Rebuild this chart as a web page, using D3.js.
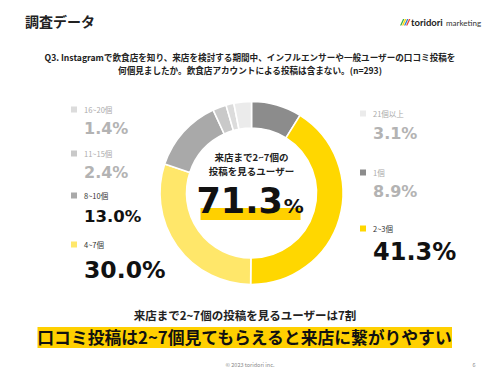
<!DOCTYPE html>
<html><head><meta charset="utf-8">
<script src="https://cdn.jsdelivr.net/npm/d3@7"></script>
<style>
html,body{margin:0;padding:0;background:#fff;}
svg{display:block;font-family:"Noto Sans CJK JP","Noto Sans",sans-serif;}
</style></head>
<body>
<script>
// ---- data ----
const categories = ["1個","2~3個","4~7個","8~10個","11~15個","16~20個","21個以上"];
const values = [8.9, 41.3, 30.0, 13.0, 2.4, 1.4, 3.1];
const colors = ["#8c8c8c","#ffd700","#ffe76a","#a9a9a9","#c9c9c9","#dcdcdc","#ebebeb"];
const valueColors = ["#b3b3b3","#111","#111","#111","#b3b3b3","#b3b3b3","#b3b3b3"];
const highlightValue = 71.3;
const title = "調査データ";
const question = ["Q3. Instagramで飲食店を知り、来店を検討する期間中、インフルエンサーや一般ユーザーの口コミ投稿を",
                  "何個見ましたか。飲食店アカウントによる投稿は含まない。(n=293)"];
const centerLabel = ["来店まで2~7個の","投稿を見るユーザー"];
const summary = "来店まで2~7個の投稿を見るユーザーは7割";
const headline = "口コミ投稿は2~7個見てもらえると来店に繋がりやすい";

const W = 500, H = 375;
const NUM = "'DejaVu Sans', Verdana, sans-serif";
const svg = d3.select("body").append("svg").attr("width", W).attr("height", H);

// header
svg.append("text").attr("x",25).attr("y",27).attr("font-size",14).attr("font-weight",700).attr("fill","#222").text(title);
// logo
const logo = svg.append("g").attr("transform","translate(400,24)");
[["#3fae49",0],["#ffd700",2],["#2f7fd1",4],["#e8473b",6]].forEach(([c,dx])=>{
  logo.append("path").attr("d",`M${dx},1.5 L${dx+3},-5 L${dx+4.4},-5 L${dx+1.4},1.5 Z`).attr("fill",c);
});
logo.append("text").attr("x",11).attr("y",1.5).attr("font-size",9.5).attr("font-weight",700).attr("fill","#222").attr("font-family","Lato, 'Noto Sans', sans-serif").text("toridori");
logo.append("text").attr("x",46).attr("y",1.5).attr("font-size",8).attr("font-weight",400).attr("fill","#333").attr("font-family","Lato, 'Noto Sans', sans-serif").text("marketing");

// question
question.forEach((q,i)=>{
  svg.append("text").attr("x",250).attr("y",61+i*13).attr("text-anchor","middle")
    .attr("font-size",8.6).attr("font-weight",700).attr("fill","#222").text(q);
});

// donut
const cx = 251.5, cy = 193, R = 91.5, r = 65;
const pie = d3.pie().sort(null).value(d=>d)(values);
const arc = d3.arc().innerRadius(r).outerRadius(R);
const g = svg.append("g").attr("transform",`translate(${cx},${cy})`);
g.selectAll("path").data(pie).join("path")
  .attr("d",arc).attr("fill",(d,i)=>colors[i]).attr("stroke","#fff").attr("stroke-width",1.6);

// center text
centerLabel.forEach((t,i)=>{
  g.append("text").attr("x",0).attr("y",-32+i*14).attr("text-anchor","middle")
   .attr("font-size",9.5).attr("font-weight",700).attr("fill","#222").text(t);
});
g.append("rect").attr("x",-51).attr("y",15).attr("width",100).attr("height",12).attr("fill","#ffd000");
const big = g.append("text").attr("x",-55).attr("y",20).attr("font-family",NUM).attr("font-weight",700).attr("fill","#111");
big.append("tspan").attr("font-size",35).text(highlightValue.toFixed(1));
big.append("tspan").attr("font-size",20).attr("dx",1).text("%");

// legend
const legendPos = {
  "16~20個":[71,112,134,16], "11~15個":[71,156,178,16], "8~10個":[71,198,221.5,16.5], "4~7個":[71,247,278,23.5],
  "21個以上":[360,116,139,16], "1個":[360,175,197,16], "2~3個":[360,231,260,24]
};
categories.forEach((c,i)=>{
  const [x,ly,vy,fs] = legendPos[c];
  svg.append("rect").attr("x",x).attr("y",ly-5.5).attr("width",6).attr("height",6).attr("fill",colors[i]);
  svg.append("text").attr("x",x+13).attr("y",ly+0.5).attr("font-size",7.5).attr("fill",i===1||i===2||i===3?"#333":"#aaa").text(c);
  svg.append("text").attr("x",x+13).attr("y",vy).attr("font-size",fs).attr("font-weight",700)
    .attr("font-family",NUM).attr("fill",valueColors[i]).text(values[i].toFixed(1)+"%");
});

// summary
svg.append("text").attr("x",245).attr("y",320).attr("text-anchor","middle").attr("font-size",11.5).attr("font-weight",700).attr("fill","#222").text(summary);
svg.append("rect").attr("x",37.5).attr("y",327).attr("width",414.5).attr("height",21).attr("fill","#ffd000");
svg.append("text").attr("x",244.5).attr("y",344).attr("text-anchor","middle").attr("font-size",16.8).attr("font-weight",700).attr("fill","#111").text(headline);

// footer
svg.append("text").attr("x",250).attr("y",367).attr("text-anchor","middle").attr("font-size",5.5).attr("fill","#888").text("© 2023 toridori inc.");
svg.append("text").attr("x",474).attr("y",367).attr("text-anchor","middle").attr("font-size",5.5).attr("fill","#888").text("6");
</script>
</body></html>
